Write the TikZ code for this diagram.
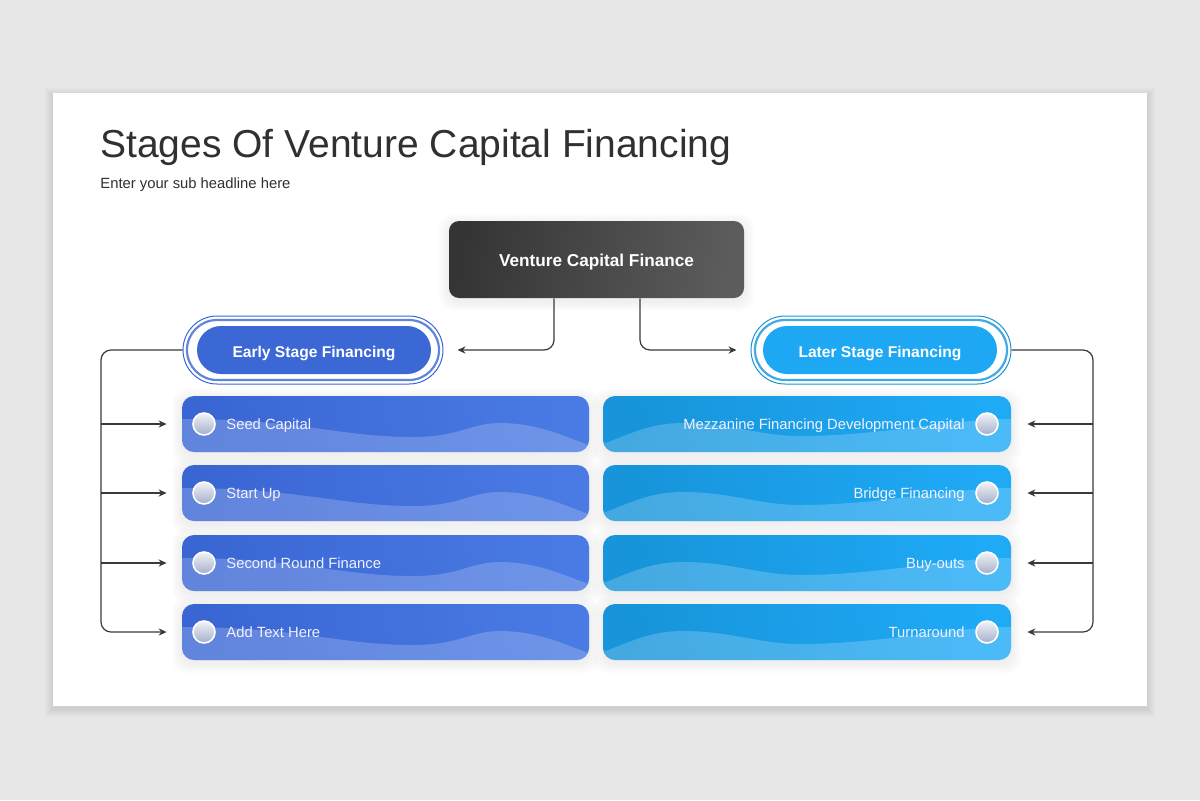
\documentclass[tikz,border=0pt]{standalone}
\usepackage{fontspec}
\setmainfont{Liberation Sans}
\usetikzlibrary{arrows.meta}
\definecolor{bggray}{HTML}{E8E7E8}
\definecolor{txtdark}{HTML}{303030}
\definecolor{lineg}{HTML}{3A3A3A}
\definecolor{blueA}{HTML}{3A66D4}
\definecolor{blueB}{HTML}{4A7AE3}
\definecolor{cyanA}{HTML}{1794DA}
\definecolor{cyanB}{HTML}{1FAAF6}
\definecolor{dotT}{HTML}{F2F3F7}
\definecolor{dotB}{HTML}{A3AFCB}
\definecolor{darkA}{HTML}{353535}
\definecolor{darkB}{HTML}{5C5C5C}
\tikzset{
  card/.style={rectangle, fill=white, minimum width=547pt, minimum height=306.5pt, inner sep=0pt},
  topbox/.style={rectangle, rounded corners=5pt, minimum width=147.5pt, minimum height=38.5pt,
    shading=axis, left color=darkA, right color=darkB, shading angle=80,
    text height=0.72em, text depth=0pt,
    text=white, font=\fontsize{8.6}{10}\selectfont\bfseries},
  ringouter/.style={rectangle, rounded corners=17pt, minimum width=130pt, minimum height=34pt, draw=#1, line width=0.5pt, fill=white},
  ringmid/.style={rectangle, rounded corners=15pt, minimum width=126pt, minimum height=30pt, draw=#1, line width=1.1pt},
  pill/.style={rectangle, rounded corners=12pt, minimum width=117pt, minimum height=24pt, fill=#1,
    text height=0.72em, text depth=0pt,
    text=white, font=\fontsize{7.8}{9}\selectfont\bfseries},
  lbox/.style={rectangle, rounded corners=6pt, minimum width=203.5pt, minimum height=28pt, inner sep=0pt,
    shading=axis, left color=blueA, right color=blueB, shading angle=100},
  rbox/.style={rectangle, rounded corners=6pt, minimum width=204pt, minimum height=28pt, inner sep=0pt,
    shading=axis, left color=cyanA, right color=cyanB, shading angle=100},
  halo/.style={fill=black, fill opacity=0.012},
  wave/.style={fill=white, fill opacity=0.2},
  dot/.style={circle, minimum size=11pt, inner sep=0pt, draw=white, line width=0.8pt,
    top color=dotT, bottom color=dotB},
  itemtxt/.style={text=white!95!blue, inner sep=0pt, font=\fontsize{7.4}{9}\selectfont},
  conn/.style={draw=lineg, line width=0.6pt, rounded corners=5pt},
  arr/.style={-{Stealth[length=4pt,width=3.6pt]}}
}
\newcommand\boxhalo[4]{% x1 y1 x2 y2
  \foreach \k in {1,...,5}{
    \fill[halo, rounded corners=7pt] (#1-2*\k,#2-2*\k+3) rectangle (#3+2*\k,#4+2*\k+3);
  }
}
\newcommand\leftitem[3]{%
  \boxhalo{182}{#2-28}{589}{#2+28}
  \node[lbox] (#1) at (385.5,#2) {};
  \begin{scope}
    \clip[rounded corners=6pt] (182,#2-28) rectangle (589,#2+28);
    \fill[wave] (182,#2-5) .. controls (300,#2-5) and (340,#2+13) .. (413,#2+13)
      .. controls (460,#2+13) and (470,#2-1) .. (500,#2-1)
      .. controls (540,#2-1) and (570,#2+15) .. (589,#2+21) -- (589,#2+30) -- (182,#2+30) -- cycle;
  \end{scope}
  \node[dot] (#1d) at (204,#2) {};
  \node[itemtxt, anchor=base west] (#1t) at (226,#2+5) {#3};
}
\newcommand\rightitem[3]{%
  \boxhalo{603}{#2-28}{1011}{#2+28}
  \node[rbox] (#1) at (807,#2) {};
  \begin{scope}
    \clip[rounded corners=6pt] (603,#2-28) rectangle (1011,#2+28);
    \fill[wave] (603,#2+20) .. controls (630,#2+10) and (650,#2-1) .. (683,#2-1)
      .. controls (730,#2-1) and (760,#2+12) .. (800,#2+12)
      .. controls (880,#2+12) and (950,#2-5) .. (1011,#2-5) -- (1011,#2+30) -- (603,#2+30) -- cycle;
  \end{scope}
  \node[dot] (#1d) at (987,#2) {};
  \node[itemtxt, anchor=base east] (#1t) at (965,#2+5) {#3};
}
\begin{document}
\begin{tikzpicture}[x=0.5pt,y=-0.5pt]
\useasboundingbox (0,0) rectangle (1200,800);
\fill[bggray] (0,0) rectangle (1200,800);
\foreach \k in {1,...,8}{
  \fill[black, fill opacity=0.01] (53-\k,93-\k+3) rectangle (1147+\k,706+\k+3);
}
\node[card] (card) at (600,399.5) {};
\node[anchor=base west, inner sep=0pt, text=txtdark, font=\fontsize{19.5}{23}\selectfont] (title) at (100,157) {Stages Of Venture Capital Financing};
\node[anchor=base west, inner sep=0pt, text=txtdark, font=\fontsize{7.4}{9}\selectfont] (sub) at (100,188) {Enter your sub headline here};

\boxhalo{449}{221}{744}{298}
\node[topbox] (vcf) at (596.5,259.5) {Venture Capital Finance};

\node[ringouter=blueA] (earlyring) at (313,350) {};
\node[ringmid=blueA!80] (earlymid) at (313,350) {};
\node[pill=blueA!90!blueB] (early) at (314,350) {Early Stage Financing};

\node[ringouter=cyanA] (latering) at (881,350) {};
\node[ringmid=cyanA!80] (latermid) at (881,350) {};
\node[pill=cyanB!90!cyanA] (later) at (880,350) {Later Stage Financing};

\leftitem{L1}{424}{Seed Capital}
\leftitem{L2}{493}{Start Up}
\leftitem{L3}{563}{Second Round Finance}
\leftitem{L4}{632}{Add Text Here}
\rightitem{R1}{424}{Mezzanine Financing Development Capital}
\rightitem{R2}{493}{Bridge Financing}
\rightitem{R3}{563}{Buy-outs}
\rightitem{R4}{632}{Turnaround}

% top connectors
\draw[conn, arr] ([xshift=-21.25pt]vcf.south) |- ([xshift=7pt]earlyring.east);
\draw[conn, arr] ([xshift=21.75pt]vcf.south) |- ([xshift=-7pt]latering.west);

% left bracket
\coordinate (lx) at (101,350);
\draw[conn, arr] (earlyring.west) -- (lx) -- (lx |- L4.west) -- ([xshift=-7.5pt]L4.west);
\foreach \n in {L1,L2,L3}{
  \draw[conn, arr] (lx |- \n.west) -- ([xshift=-7.5pt]\n.west);
}
% right bracket
\coordinate (rx) at (1093,350);
\draw[conn, arr] (latering.east) -- (rx) -- (rx |- R4.east) -- ([xshift=8pt]R4.east);
\foreach \n in {R1,R2,R3}{
  \draw[conn, arr] (rx |- \n.east) -- ([xshift=8pt]\n.east);
}
\end{tikzpicture}
\end{document}
